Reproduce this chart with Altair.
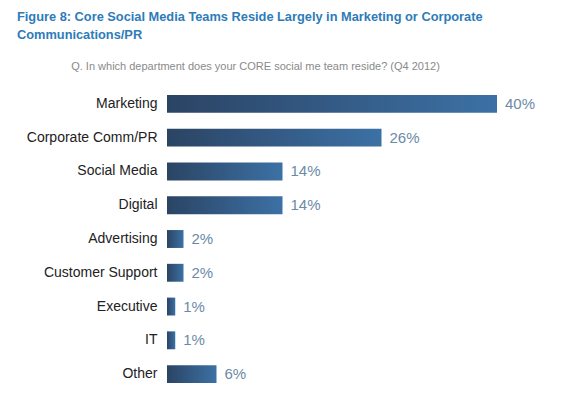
import altair as alt
import pandas as pd

departments = ["Marketing", "Corporate Comm/PR", "Social Media", "Digital",
               "Advertising", "Customer Support", "Executive", "IT", "Other"]
shares = [40, 26, 14, 14, 2, 2, 1, 1, 6]
share_labels = ["40%", "26%", "14%", "14%", "2%", "2%", "1%", "1%", "6%"]

title_lines = ["Figure 8: Core Social Media Teams Reside Largely in Marketing or Corporate",
               "Communications/PR"]
question = "Q. In which department does your CORE social me team reside? (Q4 2012)"

df = pd.DataFrame({"dept": departments, "share": shares, "label": share_labels})

FONT = "Liberation Sans"

y_enc = alt.Y("dept:N", sort=departments,
              scale=alt.Scale(paddingInner=0.47, paddingOuter=0.235),
              axis=alt.Axis(title=None, ticks=False, domain=False, labelPadding=10,
                            labelFontSize=14, labelColor="#222222", labelFont=FONT,
                            labelLimit=200, grid=False, minExtent=159, maxExtent=159))

x_enc = alt.X("share:Q", scale=alt.Scale(domain=[0, 40]),
              axis=alt.Axis(orient="top", title=question, labels=False, ticks=False,
                            domain=False, grid=False, titleFontSize=11,
                            titleFontWeight="normal", titleColor="#8a8a8a",
                            titleFont=FONT, titleX=88, titlePadding=16,
                            titleAlign="center"))

bars = alt.Chart(df).mark_bar(
    color=alt.Gradient(
        gradient="linear",
        stops=[alt.GradientStop(color="#2b4464", offset=0),
               alt.GradientStop(color="#3c71a5", offset=1)],
        x1=0, x2=1, y1=0, y2=0),
    strokeWidth=0
).encode(x=x_enc, y=y_enc)

texts = alt.Chart(df).mark_text(
    align="left", dx=8, fontSize=15, color="#6b8aa6", font=FONT
).encode(x=alt.X("share:Q"),
         y=alt.Y("dept:N", sort=departments),
         text="label:N")

chart = alt.layer(bars, texts).properties(
    width=330, height=304,
    padding={"left": 0, "top": 3, "right": 0, "bottom": 0},
    title=alt.TitleParams(text=title_lines, anchor="start", frame="bounds",
                          fontSize=12.8, font=FONT,
                          fontWeight="bold", color="#2e7bb9", lineHeight=18,
                          dx=9, offset=18),
).configure_view(strokeWidth=0, stroke="transparent").configure_axis(
    grid=False, domain=False, ticks=False
)

chart.save("out.html", embed_options={"renderer": "svg", "actions": False})
